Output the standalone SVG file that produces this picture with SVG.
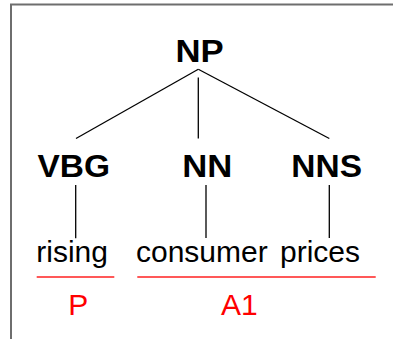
<svg xmlns="http://www.w3.org/2000/svg" width="393" height="339" viewBox="0 0 393 339">
<style>
.cat{font-family:"Liberation Sans",Arial,sans-serif;font-weight:bold;font-size:31px;fill:#000;text-anchor:middle}
.word{font-family:"Liberation Sans",Arial,sans-serif;font-size:30px;fill:#000}
.role{font-family:"Liberation Sans",Arial,sans-serif;font-size:30px;fill:#ff0000;text-anchor:middle}
.edge{stroke:#000;stroke-width:1.3;fill:none}
.span{stroke:#ff2020;stroke-width:1.3;fill:none}
.frame{stroke:#6e6e6e;stroke-width:2;fill:none}
</style>
<rect width="393" height="339" fill="#fff"/>
<path class="frame" d="M11,339 V4.5 H393"/>
<g id="edges">
<line class="edge" x1="198.3" y1="69.3" x2="76" y2="138.5"/>
<line class="edge" x1="198.3" y1="77.5" x2="198.3" y2="138.5"/>
<line class="edge" x1="198.3" y1="69.3" x2="329.3" y2="138.5"/>
<line class="edge" x1="75.7" y1="185" x2="75.7" y2="238.3"/>
<line class="edge" x1="206" y1="185" x2="206" y2="238"/>
<line class="edge" x1="329.3" y1="185" x2="329.3" y2="238"/>
</g>
<g id="np"><text class="cat" transform="translate(199.5,62.3) scale(1.12,1)">NP</text></g>
<g id="vbg"><text class="cat" transform="translate(73.7,177.2) scale(1.08,1)">VBG</text></g>
<g id="nn"><text class="cat" transform="translate(207.2,177) scale(1.12,1)">NN</text></g>
<g id="nns"><text class="cat" transform="translate(326.7,177) scale(1.08,1)">NNS</text></g>
<g id="rising"><text class="word" x="36.3" y="262">rising</text></g>
<g id="consumer"><text class="word" x="136" y="262">consumer</text></g>
<g id="prices"><text class="word" x="280" y="262">prices</text></g>
<g id="roleP">
<line class="span" x1="36.7" y1="277" x2="114.3" y2="277"/>
<text class="role" x="78.3" y="315">P</text>
</g>
<g id="roleA1">
<line class="span" x1="137.3" y1="277" x2="375.7" y2="277"/>
<text class="role" x="239.3" y="315">A1</text>
</g>
</svg>
